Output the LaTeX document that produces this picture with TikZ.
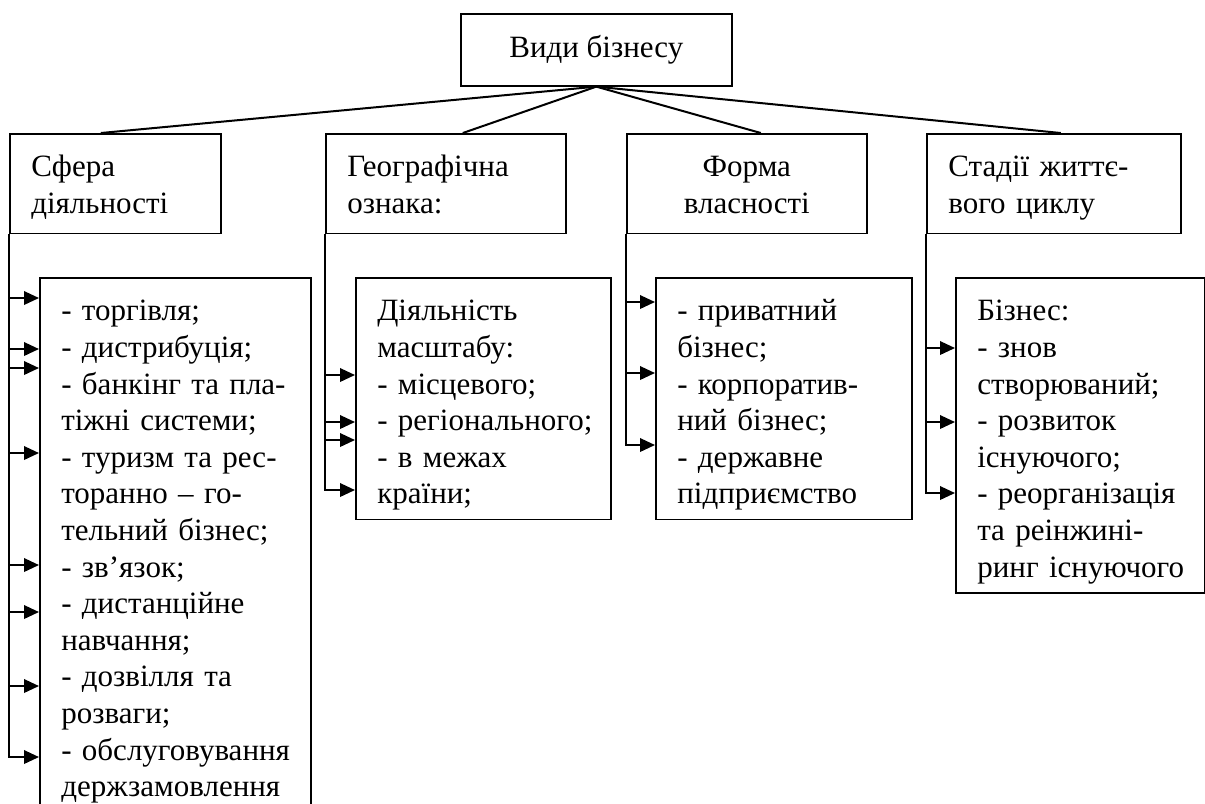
\documentclass[tikz,border=0pt]{standalone}
\usepackage{fontspec}
\setmainfont{Liberation Serif}
\usetikzlibrary{arrows.meta}
\begin{document}
\begin{tikzpicture}[
  x=0.4pt, y=-0.4pt,
  font=\fontsize{12.4pt}{14.64pt}\selectfont,
  top/.style={draw,line width=0.65pt,anchor=north west,
    minimum width=108.4pt,minimum height=28.8pt,inner sep=0pt},
  box/.style={draw,line width=0.65pt,anchor=north west,align=left,
    inner xsep=8.6pt,inner ysep=3.6pt,
    execute at begin node={\exhyphenpenalty=10000 \hyphenpenalty=10000
      \rule{0pt}{13.6pt}}},
  cat/.style={box,minimum height=38pt,
    execute at end node={\rule[-4.4pt]{0pt}{4.4pt}}},
  lst/.style={box,execute at end node={\rule[-1.2pt]{0pt}{1.2pt}}},
  conn/.style={line width=0.8pt},
  arr/.style={conn,-{Triangle[length=6pt,width=5.4pt]}}]
\clip (0,0) rectangle (1205,803);
\node[top] (vydy) at (460,13) {Види бізнесу};
\node[cat,text width=67.2pt] (sfera) at (9,133) {Сфера\\діяльності};
\node[cat,text width=78.8pt] (geo) at (325,133) {Географічна\\ознака:};
\node[cat,text width=78.8pt,align=center] (forma) at (626,133) {Форма\\власності};
\node[cat,text width=84.4pt] (stadii) at (926,133) {Стадії~життє-\\вого~циклу};
\node[lst,text width=91.2pt] (sferalist) at (39,277) {-~торгівля;\\-~дистрибуція;\\
  -~банкінг~та~пла-\\тіжні~системи;\\-~туризм~та~рес-\\торанно~–~го-\\тельний~бізнес;\\
  -~зв’язок;\\-~дистанційне\\навчання;\\-~дозвілля~та\\розваги;\\
  -~обслуговування\\держзамовлення};
\node[lst,text width=84.8pt] (geolist) at (355,277) {Діяльність\\масштабу:\\
  -~місцевого;\\-~регіонального;\\-~в~межах\\країни;};
\node[lst,text width=85.2pt] (formalist) at (655,277) {-~приватний\\бізнес;\\
  -~корпоратив-\\ний~бізнес;\\-~державне\\підприємство};
\node[lst,text width=82.4pt] (stadiilist) at (955,277) {Бізнес:\\-~знов\\створюваний;\\
  -~розвиток\\існуючого;\\-~реорганізація\\та~реінжині-\\ринг~існуючого};
\draw[conn] (vydy.south) -- ([xshift=-5.8pt]sfera.north);
\draw[conn] (vydy.south) -- ([xshift=6.8pt]geo.north);
\draw[conn] (vydy.south) -- ([xshift=5.6pt]forma.north);
\draw[conn] (vydy.south) -- ([xshift=2.8pt]stadii.north);
\draw[arr] (sfera.south west) |- (sferalist.west |- 0,757);
\foreach \y in {298,349,368,453,565,612,686}
  \draw[arr] (sfera.south west |- 0,\y) -- (sferalist.west |- 0,\y);
\draw[arr] (geo.south west) |- (geolist.west |- 0,490);
\foreach \y in {375,422,440}
  \draw[arr] (geo.south west |- 0,\y) -- (geolist.west |- 0,\y);
\draw[arr] (forma.south west) |- (formalist.west |- 0,445);
\foreach \y in {302,373}
  \draw[arr] (forma.south west |- 0,\y) -- (formalist.west |- 0,\y);
\draw[arr] (stadii.south west) |- (stadiilist.west |- 0,493);
\foreach \y in {348,422}
  \draw[arr] (stadii.south west |- 0,\y) -- (stadiilist.west |- 0,\y);
\end{tikzpicture}
\end{document}
